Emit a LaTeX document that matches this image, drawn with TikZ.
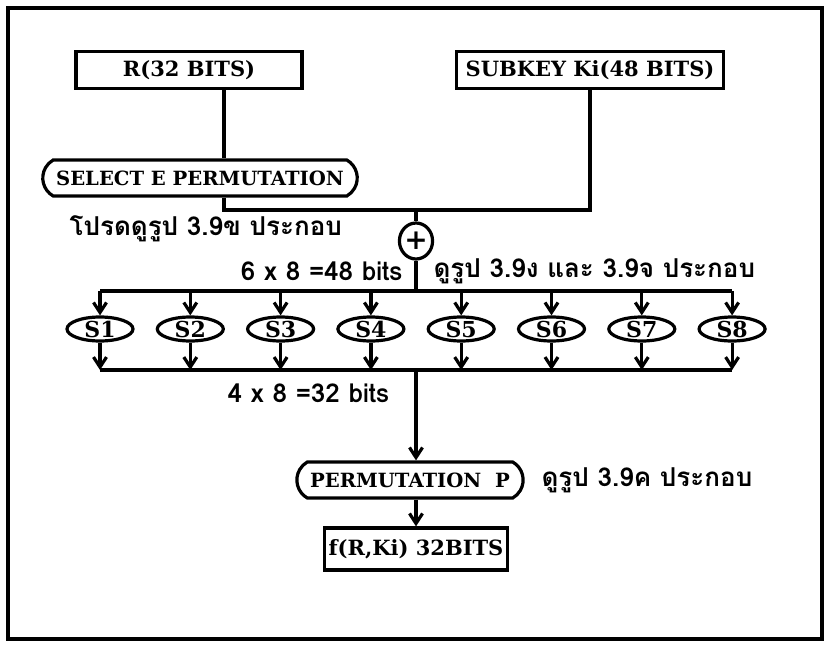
\documentclass[tikz,border=0pt]{standalone}
\usepackage{fontspec}
\setmainfont{DejaVu Serif}
\newfontfamily\thaifont[Script=Thai]{Loma}
\usetikzlibrary{shapes.geometric,shapes.misc,arrows.meta}

\begin{document}
\begin{tikzpicture}[x=0.5pt, y=-0.5pt, line width=1.6pt,
  every node/.style={font=\bfseries\fontsize{10.5}{12}\selectfont},
  box/.style={draw, rectangle, minimum height=18.5pt, inner sep=2pt},
  pill/.style={draw, rounded rectangle, rounded rectangle arc length=120,
    minimum height=18pt, inner ysep=3pt, inner xsep=6pt,
    font=\bfseries\fontsize{9.8}{11}\selectfont},
  sbox/.style={draw, ellipse, minimum width=33pt, minimum height=12pt, inner sep=0pt,
    font=\bfseries\fontsize{11}{12}\selectfont},
  thai/.style={font=\thaifont\bfseries\fontsize{13}{15}\selectfont, inner sep=0pt},
  arr/.style={-{Straight Barb[length=5pt,width=6.5pt]}}]
  \useasboundingbox (0,0) rectangle (829,648);
  \draw[line width=1.8pt] (8,8) rectangle (822,639);

  % input blocks
  \node[box, minimum width=113pt] (r) at (189,70) {R(32 BITS)};
  \node[box, minimum width=133.5pt] (k) at (590,70) {SUBKEY Ki(48 BITS)};
  \node[pill] (sel) at (200,178) {SELECT E PERMUTATION};
  \coordinate (rl) at (224,0);
  \draw (r.south -| rl) -- (sel.north -| rl);

  % xor with the subkey
  \coordinate (j) at (416,210);
  \node[draw, ellipse, inner sep=0pt, minimum width=15pt, minimum height=18pt,
    font=\bfseries\fontsize{14}{14}\selectfont] (xor) at (416,241) {+};
  \draw (sel.south -| rl) |- (j) -| (k.south);
  \draw (j) -- (xor);

  % S-boxes
  \coordinate (tb) at (416,291);
  \coordinate (bb) at (416,370);
  \foreach \i in {1,...,8}
    \node[sbox] (s\i) at ({100+90.3*(\i-1)},329) {S\i};
  \draw (xor) -- (tb);
  \draw (s1.north |- tb) -- (s8.north |- tb);
  \draw (s1.south |- bb) -- (s8.south |- bb);
  \foreach \i in {1,...,8} {
    \draw[arr] (s\i.north |- tb) -- (s\i.north);
    \draw[arr] (s\i.south) -- (s\i.south |- bb);
  }

  % output
  \node[pill] (perm) at (410,480) {PERMUTATION\ \ P};
  \node[box, minimum width=82pt, minimum height=21pt] (f) at (416,549) {f(R,Ki) 32BITS};
  \draw[arr] (bb) -- (perm.north -| bb);
  \draw[arr] (perm.south -| bb) -- (f.north -| bb);

  % notes
  \node[thai, anchor=west] (n1) at (68,229) {โปรดดูรูป 3.9ข ประกอบ};
  \node[thai, anchor=east] (n2) at (404,271) {6 x 8 =48 bits};
  \node[thai, anchor=west] (n3) at (432,271) {ดูรูป 3.9ง และ 3.9จ ประกอบ};
  \node[thai, anchor=west] (n4) at (226,393) {4 x 8 =32 bits};
  \node[thai, anchor=west] (n5) at (540,480) {ดูรูป 3.9ค ประกอบ};
\end{tikzpicture}
\end{document}
